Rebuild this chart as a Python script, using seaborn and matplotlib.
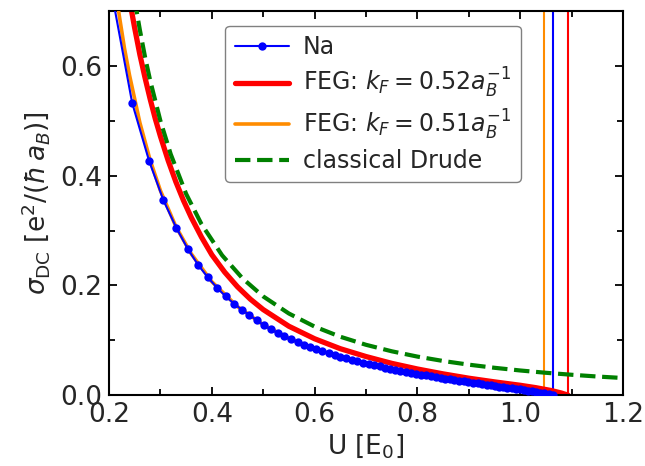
import numpy as np
import pandas as pd
import matplotlib
matplotlib.use("Agg")
import matplotlib.pyplot as plt
import seaborn as sns
from matplotlib.ticker import MultipleLocator
from matplotlib.lines import Line2D

# ---------------- data ----------------
na_U = [0.205, 0.245, 0.278, 0.306, 0.331, 0.353, 0.373, 0.392, 0.410, 0.427,
        0.443, 0.458, 0.473, 0.487, 0.501, 0.515, 0.528, 0.541, 0.554, 0.567,
        0.579, 0.591, 0.603, 0.615, 0.627, 0.639, 0.650, 0.661, 0.672, 0.683,
        0.694, 0.705, 0.716, 0.727, 0.737, 0.747, 0.757, 0.767, 0.777, 0.787,
        0.797, 0.807, 0.817, 0.827, 0.836, 0.845, 0.854, 0.863, 0.872, 0.881,
        0.890, 0.899, 0.908, 0.917, 0.926, 0.935, 0.943, 0.951, 0.959, 0.967,
        0.975, 0.983, 0.991, 0.999, 1.007, 1.015, 1.023, 1.031, 1.039, 1.047,
        1.055, 1.063]
na_sigma = [0.735, 0.533, 0.427, 0.355, 0.305, 0.267, 0.238, 0.215, 0.196, 0.180,
            0.167, 0.156, 0.146, 0.137, 0.1275, 0.120, 0.1133, 0.1073, 0.1017, 0.0964,
            0.0922, 0.0879, 0.0839, 0.0801, 0.0766, 0.0732, 0.0703, 0.0675, 0.0647, 0.0620,
            0.0594, 0.0569, 0.0546, 0.0524, 0.0504, 0.0484, 0.0464, 0.0445, 0.0427, 0.0410,
            0.0394, 0.0376, 0.0360, 0.0344, 0.0329, 0.0315, 0.0302, 0.0289, 0.0276, 0.0263,
            0.0250, 0.0238, 0.0226, 0.0214, 0.0202, 0.0190, 0.0179, 0.0168, 0.0158, 0.0148,
            0.0137, 0.0126, 0.0116, 0.0106, 0.0096, 0.0084, 0.0074, 0.0060, 0.0046, 0.0032,
            0.0016, 0.0]

feg52_U = [0.24, 0.25, 0.26, 0.27, 0.28, 0.29, 0.30, 0.315, 0.33, 0.345, 0.36, 0.38,
           0.40, 0.425, 0.45, 0.475, 0.50, 0.55, 0.60, 0.65, 0.70, 0.75, 0.80, 0.85,
           0.90, 0.95, 1.00, 1.03, 1.06, 1.08, 1.093]
feg52_sigma = [0.7205, 0.669, 0.621, 0.579, 0.540, 0.504, 0.472, 0.428, 0.389, 0.3546,
               0.324, 0.288, 0.256, 0.2243, 0.1975, 0.175, 0.156, 0.1256, 0.1028, 0.0847,
               0.0704, 0.058, 0.0477, 0.0388, 0.0309, 0.0242, 0.018, 0.0137, 0.0085,
               0.0039, 0.0]

feg51_U = [0.21, 0.22, 0.23, 0.24, 0.26, 0.28, 0.30, 0.33, 0.36, 0.40, 0.45, 0.50,
           0.55, 0.60, 0.65, 0.70, 0.75, 0.80, 0.85, 0.90, 0.95, 1.00, 1.02, 1.046]
feg51_sigma = [0.755, 0.692, 0.633, 0.583, 0.497, 0.4286, 0.373, 0.3076, 0.2577, 0.2069,
               0.1615, 0.1284, 0.1035, 0.0844, 0.0696, 0.0573, 0.0471, 0.0383, 0.0304,
               0.0235, 0.0168, 0.0090, 0.006, 0.0]

drude_U = [0.24, 0.25, 0.26, 0.27, 0.28, 0.30, 0.32, 0.35, 0.38, 0.42, 0.46, 0.50,
           0.55, 0.60, 0.65, 0.70, 0.75, 0.80, 0.85, 0.90, 0.95, 1.00, 1.05, 1.10,
           1.15, 1.20]
drude_sigma = [0.781, 0.72, 0.666, 0.617, 0.574, 0.50, 0.4395, 0.367, 0.3116, 0.255,
               0.2127, 0.18, 0.1488, 0.125, 0.1065, 0.0918, 0.08, 0.0703, 0.0623,
               0.0556, 0.0499, 0.045, 0.0408, 0.0372, 0.034, 0.03125]

# critical U (vertical markers)
crit_U = [1.046, 1.063, 1.093]
crit_colors = ["darkorange", "blue", "red"]

labels = ["Na",
          r"FEG: $k_F = 0.52a_B^{-1}$",
          r"FEG: $k_F = 0.51a_B^{-1}$",
          "classical Drude"]

# ---------------- plot ----------------
sns.set_style("white")
plt.rcParams["font.family"] = ["DejaVu Sans"]
plt.rcParams["mathtext.fontset"] = "dejavusans"

fig = plt.figure(figsize=(6.45, 4.66), dpi=100)
ax = fig.add_axes([0.169, 0.152, 0.797, 0.824])

sns.lineplot(x=feg52_U, y=feg52_sigma, ax=ax, color="red", lw=3.8,
             sort=False, estimator=None, zorder=2)
sns.lineplot(x=feg51_U, y=feg51_sigma, ax=ax, color="darkorange", lw=2.6,
             sort=False, estimator=None, zorder=3)
sns.lineplot(x=na_U, y=na_sigma, ax=ax, color="blue", lw=1.5, marker="o",
             markersize=6.0, markeredgewidth=0, sort=False, estimator=None, zorder=4)
sns.lineplot(x=drude_U, y=drude_sigma, ax=ax, color="green", lw=3.0,
             linestyle="--", sort=False, estimator=None, zorder=5)

for xc, c in zip(crit_U, crit_colors):
    ax.axvline(xc, color=c, lw=1.5, zorder=1)

ax.set_xlim(0.2, 1.2)
ax.set_ylim(0.0, 0.7)
ax.xaxis.set_major_locator(MultipleLocator(0.2))
ax.xaxis.set_minor_locator(MultipleLocator(0.1))
ax.yaxis.set_major_locator(MultipleLocator(0.2))
ax.yaxis.set_minor_locator(MultipleLocator(0.1))
ax.tick_params(which="both", direction="in", top=True, right=True,
               bottom=True, left=True, color="black", width=1.3)
ax.tick_params(which="major", length=6, labelsize=19, pad=5)
ax.tick_params(which="minor", length=4)
for s in ax.spines.values():
    s.set_color("black")
    s.set_linewidth(1.5)

ax.set_xlabel(r"U [E$_0$]", fontsize=19, labelpad=3)
ax.set_ylabel(r"$\sigma_{\mathrm{DC}}$ [e$^2$/($\hbar\, a_B$)]", fontsize=19, labelpad=6)

handles = [
    Line2D([], [], color="blue", lw=1.5, marker="o", markersize=6.0, markeredgewidth=0),
    Line2D([], [], color="red", lw=3.8),
    Line2D([], [], color="darkorange", lw=2.6),
    Line2D([], [], color="green", lw=3.0, linestyle="--"),
]
leg = ax.legend(handles, labels, loc="upper left", bbox_to_anchor=(0.203, 0.993),
                fontsize=17, frameon=True, fancybox=True, framealpha=1,
                edgecolor="0.5", handlelength=2.3, labelspacing=0.3,
                borderpad=0.4, handletextpad=0.6)
leg.get_frame().set_linewidth(1.0)

fig.savefig("out.png", dpi=100)
